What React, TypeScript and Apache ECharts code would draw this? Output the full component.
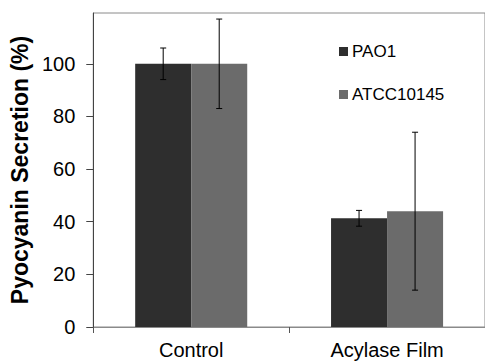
import React, { useEffect, useRef } from "react";
import * as echarts from "echarts";

const categories = ["Control", "Acylase Film"];
const seriesNames = ["PAO1", "ATCC10145"];
const pao1Values = [100, 41.3];
const pao1Errors = [6, 3];
const atccValues = [100, 44];
const atccErrors = [17, 30];
const yTicks = [0, 20, 40, 60, 80, 100];

const FONT = "Arial, 'Liberation Sans', sans-serif";
const colors = ["#2e2e2e", "#6b6b6b"];

export default function App() {
  const ref = useRef<HTMLDivElement>(null);
  useEffect(() => {
    if (!ref.current) return;
    const chart = echarts.init(ref.current, undefined, { renderer: "svg" });
    const barWidthFrac = 0.286;
    const errData = (vals: number[], errs: number[], side: number) =>
      vals.map((v, i) => [i, v, v - errs[i], v + errs[i], side]);
    const renderErr = (params: any, api: any) => {
      const idx = api.value(0);
      const side = api.value(4);
      const band = api.size([1, 0])[0];
      const off = side * band * barWidthFrac * 0.5;
      const lo = api.coord([idx, api.value(2)]);
      const hi = api.coord([idx, api.value(3)]);
      const x = lo[0] + off;
      const cap = 3;
      const style = { stroke: "#000", lineWidth: 1 };
      return {
        type: "group",
        children: [
          { type: "line", shape: { x1: x, y1: lo[1], x2: x, y2: hi[1] }, style },
          { type: "line", shape: { x1: x - cap, y1: lo[1], x2: x + cap, y2: lo[1] }, style },
          { type: "line", shape: { x1: x - cap, y1: hi[1], x2: x + cap, y2: hi[1] }, style },
        ],
      };
    };
    chart.setOption({
      animation: false,
      backgroundColor: "#fff",
      textStyle: { fontFamily: FONT },
      grid: {
        left: 90,
        top: 13,
        bottom: 35,
        right: -3,
        show: true,
        borderColor: "#8a8a8a",
        borderWidth: 1,
      },
      legend: {
        orient: "vertical",
        left: 339,
        top: 43,
        padding: 0,
        itemWidth: 9,
        itemHeight: 9,
        itemGap: 26,
        icon: "rect",
        textStyle: { fontSize: 17, color: "#000", fontFamily: FONT, padding: [0, 0, 0, -1] },
        data: seriesNames,
      },
      xAxis: {
        type: "category",
        data: categories,
        axisLine: { lineStyle: { color: "#8a8a8a", width: 1 } },
        axisTick: { show: true, length: 6, lineStyle: { color: "#555" } },
        axisLabel: { fontSize: 20, color: "#000", margin: 13, fontFamily: FONT },
      },
      yAxis: {
        type: "value",
        min: 0,
        max: 119.3,
        interval: 20,
        name: "Pyocyanin Secretion (%)",
        nameLocation: "middle",
        nameGap: 55,
        nameTextStyle: { fontSize: 23, fontWeight: "bold", color: "#000", fontFamily: FONT },
        axisLine: { show: true, lineStyle: { color: "#444", width: 1 } },
        axisTick: { show: true, length: 7, customValues: yTicks, lineStyle: { color: "#444" } },
        axisLabel: { fontSize: 20, color: "#000", margin: 18, customValues: yTicks, fontFamily: FONT },
        splitLine: { show: false },
      },
      series: [
        {
          name: seriesNames[0],
          type: "bar",
          data: pao1Values,
          barWidth: "28.6%",
          barGap: "0%",
          itemStyle: { color: colors[0] },
        },
        {
          name: seriesNames[1],
          type: "bar",
          data: atccValues,
          barWidth: "28.6%",
          barGap: "0%",
          itemStyle: { color: colors[1] },
        },
        {
          type: "custom",
          renderItem: renderErr,
          data: errData(pao1Values, pao1Errors, -1),
          encode: { x: 0, y: [1, 2, 3] },
          z: 10,
          silent: true,
        },
        {
          type: "custom",
          renderItem: renderErr,
          data: errData(atccValues, atccErrors, 1),
          encode: { x: 0, y: [1, 2, 3] },
          z: 10,
          silent: true,
        },
      ],
    });
    return () => chart.dispose();
  }, []);
  return <div ref={ref} style={{ width: 485, height: 362, position: "absolute", left: 0, top: 0 }} />;
}
